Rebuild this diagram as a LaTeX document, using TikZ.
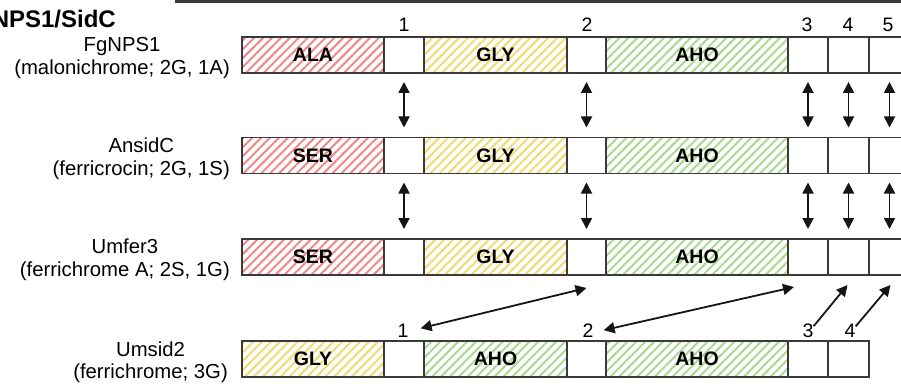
\documentclass[tikz,border=0pt]{standalone}
\usepackage{fontspec}
\setmainfont{Liberation Sans}
\usetikzlibrary{patterns.meta,arrows.meta,calc}
\definecolor{outl}{HTML}{3A3A3A}
\definecolor{hred}{HTML}{F08888}
\definecolor{hyel}{HTML}{F2DA70}
\definecolor{hgrn}{HTML}{A8DA90}
\definecolor{arr}{HTML}{151515}
\begin{document}
\begin{tikzpicture}[x=1pt,y=-1pt,
  seg/.style={draw=outl, line width=1.4pt, minimum height=36pt, inner sep=0pt, outer sep=0pt,
    anchor=west, font=\fontsize{19.5}{20}\selectfont\bfseries},
  wbox/.style={seg, fill=white},
  hatch/.style={seg, pattern={Lines[angle=45,distance=6.3pt,line width=2pt]}, pattern color=#1},
  redseg/.style={hatch=hred},
  yelseg/.style={hatch=hyel},
  grnseg/.style={hatch=hgrn},
  lab/.style={anchor=east, align=center, inner sep=0pt, font=\fontsize{20.3}{22.5}\selectfont},
  num/.style={anchor=base, inner sep=0pt, font=\fontsize{19.5}{20}\selectfont},
  dbl/.style={draw=arr, line width=1.8pt, {Triangle[width=11pt,length=11pt]}-{Triangle[width=11pt,length=11pt]}},
  sgl/.style={draw=arr, line width=1.8pt, -{Triangle[width=11pt,length=11pt]}},
]
\clip (0,0) rectangle (901,390);
\useasboundingbox (0,0) rectangle (901,390);
\fill[white] (0,0) rectangle (901,390);

% top rule and title
\draw[line width=3pt, color=outl] (175,2) -- (910,2);
\node[anchor=base east, inner sep=0pt, font=\fontsize{24}{25}\selectfont\bfseries] (title) at (116,28) {NPS1/SidC};

% row 1: FgNPS1
\node[lab] (l1) at (230,58) {FgNPS1\\(malonichrome; 2G, 1A)};
\node[redseg, minimum width=142pt] (a1) at (242,55) {ALA};
\node[wbox, minimum width=40pt] (a2) at (a1.east) {};
\node[yelseg, minimum width=143pt] (a3) at (a2.east) {GLY};
\node[wbox, minimum width=39pt] (a4) at (a3.east) {};
\node[grnseg, minimum width=182pt] (a5) at (a4.east) {AHO};
\node[wbox, minimum width=40pt] (a6) at (a5.east) {};
\node[wbox, minimum width=41pt] (a7) at (a6.east) {};
\node[wbox, minimum width=41pt] (a8) at (a7.east) {};

\node[num] (n1) at (404,32) {1};
\node[num] (n2) at (587,32) {2};
\node[num] (n3) at (807,32) {3};
\node[num] (n4) at (848,32) {4};
\node[num] (n5) at (888,32) {5};

% row 2: AnsidC
\node[lab] (l2) at (230,158.5) {AnsidC\\(ferricrocin; 2G, 1S)};
\node[redseg, minimum width=142pt] (b1) at (242,155.5) {SER};
\node[wbox, minimum width=40pt] (b2) at (b1.east) {};
\node[yelseg, minimum width=143pt] (b3) at (b2.east) {GLY};
\node[wbox, minimum width=39pt] (b4) at (b3.east) {};
\node[grnseg, minimum width=182pt] (b5) at (b4.east) {AHO};
\node[wbox, minimum width=40pt] (b6) at (b5.east) {};
\node[wbox, minimum width=41pt] (b7) at (b6.east) {};
\node[wbox, minimum width=41pt] (b8) at (b7.east) {};

% row 3: Umfer3
\node[lab] (l3) at (230,260) {Umfer3\\(ferrichrome A; 2S, 1G)};
\node[redseg, minimum width=142pt] (c1) at (242,257) {SER};
\node[wbox, minimum width=40pt] (c2) at (c1.east) {};
\node[yelseg, minimum width=143pt] (c3) at (c2.east) {GLY};
\node[wbox, minimum width=39pt] (c4) at (c3.east) {};
\node[grnseg, minimum width=182pt] (c5) at (c4.east) {AHO};
\node[wbox, minimum width=40pt] (c6) at (c5.east) {};
\node[wbox, minimum width=41pt] (c7) at (c6.east) {};
\node[wbox, minimum width=41pt] (c8) at (c7.east) {};

% row 4: Umsid2
\node[lab] (l4) at (228,362) {Umsid2\\(ferrichrome; 3G)};
\node[yelseg, minimum width=142pt] (d1) at (242,359) {GLY};
\node[wbox, minimum width=40pt] (d2) at (d1.east) {};
\node[grnseg, minimum width=143pt] (d3) at (d2.east) {AHO};
\node[wbox, minimum width=39pt] (d4) at (d3.east) {};
\node[grnseg, minimum width=182pt] (d5) at (d4.east) {AHO};
\node[wbox, minimum width=40pt] (d6) at (d5.east) {};
\node[wbox, minimum width=41pt] (d7) at (d6.east) {};

\node[num] (m1) at (403,337) {1};
\node[num] (m2) at (588,337) {2};
\node[num] (m3) at (808,337) {3};
\node[num] (m4) at (850,337) {4};

% vertical arrows rows 1-2 and 2-3
\foreach \i in {2,4,6,7,8}{
  \draw[dbl, shorten <=9pt, shorten >=10pt] (a\i.south) -- (b\i.north);
  \draw[dbl, shorten <=9pt, shorten >=10pt] (b\i.south) -- (c\i.north);
}

% diagonal arrows rows 3-4
\draw[dbl] ($(m1.east)+(12,-2)$) -- ($(c4.south)+(0,13)$);
\draw[dbl] ($(m2.east)+(10,0)$) -- ($(c6.south west)+(6,12)$);
\draw[sgl] ($(m3.north east)+(0,3)$) -- ($(c7.south)+(-1,10)$);
\draw[sgl] ($(m4.north east)+(0,3)$) -- ($(c8.south)+(1,10)$);
\end{tikzpicture}
\end{document}
